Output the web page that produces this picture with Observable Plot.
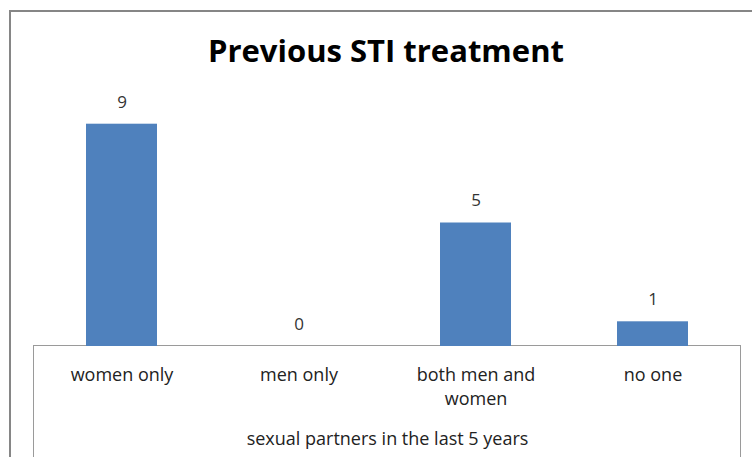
<!DOCTYPE html>
<html>
<head>
<meta charset="utf-8">
<script src="https://cdn.jsdelivr.net/npm/d3@7"></script>
<script src="https://cdn.jsdelivr.net/npm/@observablehq/plot@0.6"></script>
<style>
  body { margin: 0; background: #fff; }
  #wrap { position: relative; width: 752px; height: 457px; overflow: hidden; font-family: "Open Sans", sans-serif; }
  #outer { position: absolute; left: 9px; top: 10px; width: 800px; height: 500px; border: 2px solid #868686; box-sizing: border-box; }
  #title { position: absolute; left: 0; width: 772px; top: 29px; text-align: center; font-size: 31px; font-weight: bold; color: #000; }
  #axisbox { position: absolute; left: 33px; top: 345px; width: 708px; height: 130px; border: 1px solid #9a9a9a; border-bottom: none; box-sizing: border-box; }
  #chart { position: absolute; left: 0; top: 0; }
</style>
</head>
<body>
<div id="wrap">
  <div id="outer"></div>
  <div id="axisbox"></div>
  <div id="chart"></div>
  <div id="title">Previous STI treatment</div>
</div>
<script>
const categories = ["women only", "men only", "both men and women", "no one"];
const values = [9, 0, 5, 1];
const xLabel = "sexual partners in the last 5 years";

const data = categories.map((c, i) => ({category: c, value: values[i]}));

const chart = Plot.plot({
  width: 752,
  height: 457,
  marginLeft: 33,
  marginRight: 11,
  marginTop: 99,
  marginBottom: 111,
  style: {fontFamily: "'Open Sans', sans-serif", background: "transparent"},
  x: {domain: categories, paddingInner: 0.6, paddingOuter: 0.3},
  y: {domain: [0, 10], axis: null},
  marks: [
    Plot.barY(data, {x: "category", y: "value", fill: "#4f81bd"}),
    Plot.text(data, {x: "category", y: "value", text: d => String(d.value), dy: -22, fontSize: 17, fill: "#333"}),
    Plot.axisX({
      tickSize: 0,
      tickPadding: 18,
      fontSize: 18,
      lineHeight: 1.3,
      color: "#222",
      tickFormat: d => d === "both men and women" ? "both men and\nwomen" : d,
      label: xLabel,
      labelAnchor: "center",
      labelOffset: 98,
      labelArrow: "none"
    })
  ]
});
document.getElementById("chart").appendChild(chart);
</script>
</body>
</html>
